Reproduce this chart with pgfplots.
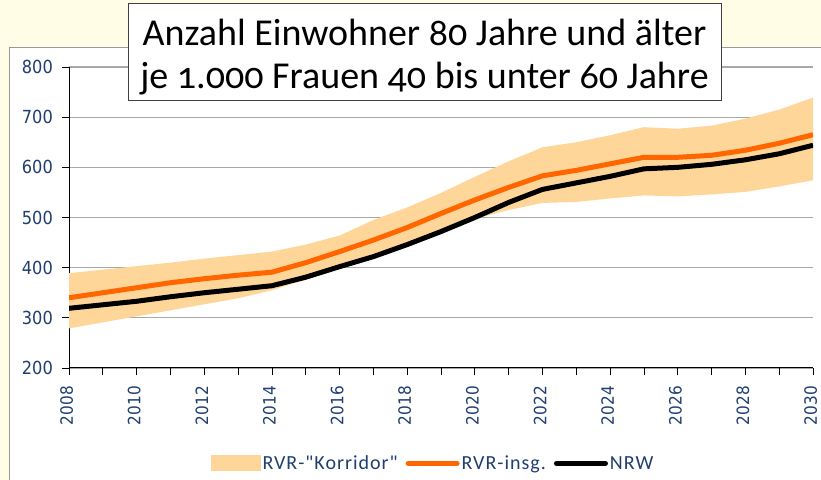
\documentclass[border=0pt]{standalone}
\usepackage{fontspec}
\setmainfont{Carlito}
\newfontfamily\titlefont{Carlito}[Numbers=OldStyle]
\newfontfamily\tickfont{DejaVu Sans Condensed}
\newfontfamily\legfont{Carlito}[LetterSpace=5]
\usepackage{pgfplots}
\pgfplotsset{compat=1.18}
\usepackage{pgfplotstable}
\definecolor{bgyellow}{HTML}{FFFDE6}
\definecolor{bandcol}{HTML}{FFD699}
\definecolor{rvrorange}{HTML}{FF6600}
\definecolor{tickblue}{HTML}{1F3F6F}
\definecolor{gridgray}{HTML}{A8A8A8}
\pgfplotstableread{
year rvr nrw
2008 340 319
2009 350 326
2010 360 333
2011 370 342
2012 378 350
2013 385 357
2014 391 364
2015 410 381
2016 432 402
2017 455 422
2018 480 446
2019 508 472
2020 535 500
2021 560 530
2022 583 556
2023 594 569
2024 607 582
2025 620 597
2026 620 600
2027 624 606
2028 634 615
2029 648 627
2030 665 644
}\linetab
% corridor outline: upper edge 2008->2030, then lower edge 2030->2008
\pgfplotstableread{
year val
2008 389
2009 396
2010 403
2011 410
2012 418
2013 425
2014 432
2015 446
2016 464
2017 495
2018 520
2019 549
2020 581
2021 612
2022 640
2023 650
2024 664
2025 680
2026 677
2027 683
2028 697
2029 715
2030 739
2030 574
2029 562
2028 551
2027 546
2026 542
2025 544
2024 538
2023 531
2022 529
2021 515
2020 497
2019 470
2018 444
2017 420
2016 398
2015 376
2014 355
2013 339
2012 327
2011 315
2010 303
2009 291
2008 279
}\bandtab
\begin{document}
\begin{tikzpicture}
\path[use as bounding box, fill=bgyellow] (0,0) rectangle (821bp,480bp);
\fill[white] (9.5bp,0) rectangle (821bp,433bp);
\draw[gray!80, line width=0.8bp] (9.5bp,0) -- (9.5bp,433bp) -- (821bp,433bp);
\begin{axis}[
  at={(69bp,112bp)}, anchor=south west,
  scale only axis, width=744bp, height=301bp,
  xmin=2008, xmax=2030, ymin=200, ymax=800,
  axis x line*=bottom, axis y line*=left,
  axis line style={black, line width=1bp},
  xtick={2008,2010,...,2030},
  minor xtick={2009,2011,...,2029},
  ytick={200,300,...,800},
  tick align=outside,
  major tick length=7bp, minor tick length=7bp,
  tick style={black, line width=0.8bp},
  ymajorgrids, grid style={gridgray, line width=1.2bp},
  x tick label style={xshift=-2.5bp, rotate=90, anchor=east, font=\tickfont\fontsize{17bp}{17bp}\selectfont, text=tickblue, inner xsep=11bp, inner ysep=0bp, text depth=0pt},
  y tick label style={font=\tickfont\fontsize{18bp}{18bp}\selectfont, text=tickblue, inner xsep=9bp},
  /pgf/number format/assume math mode=true,
  /pgf/number format/1000 sep={},
  legend style={at={(0.186,-0.317)}, anchor=west, draw=none, fill=none,
    font=\legfont\fontsize{20bp}{20bp}\selectfont, text=tickblue,
    /tikz/every even column/.append style={column sep=6bp},
    nodes={inner sep=2bp}},
  legend columns=3,
]
\addplot[fill=bandcol, draw=none,
  legend image code/.code={\fill[bandcol] (0bp,-8bp) rectangle (50bp,8bp);}]
  table[x=year, y=val] {\bandtab} -- cycle;
\addlegendentry{RVR-"Korridor"}
\addplot[rvrorange, line width=5bp, line join=round,
  legend image code/.code={\draw[rvrorange, line width=5bp, line cap=round] (1bp,0bp) -- (50bp,0bp);}]
  table[x=year, y=rvr] {\linetab};
\addlegendentry{RVR-insg.}
\addplot[black, line width=5bp, line join=round,
  legend image code/.code={\draw[black, line width=5bp, line cap=round] (1bp,0bp) -- (50bp,0bp);}]
  table[x=year, y=nrw] {\linetab};
\addlegendentry{NRW}
\end{axis}
\draw[black!75, line width=0.8bp, fill=white] (128bp,380bp) rectangle (721bp,477bp);
\node[inner sep=0pt, align=center, font=\titlefont\fontsize{38bp}{43bp}\selectfont]
  at (424.5bp,422.5bp) {Anzahl Einwohner 80 Jahre und älter\\je 1.000 Frauen 40 bis unter 60 Jahre};
\end{tikzpicture}
\end{document}
